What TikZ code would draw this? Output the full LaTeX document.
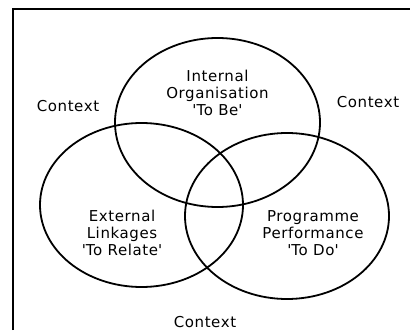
\documentclass[tikz,border=0pt]{standalone}
\usepackage{fontspec}
\setmainfont[LetterSpace=4]{DejaVu Sans}
\usepackage{tikz}

\tikzset{
  ring/.style={draw=black, line width=1.8pt},
  label text/.style={align=center, font=\fontsize{15}{17}\selectfont},
}
\newcommand{\sq}{\textquotesingle}

\begin{document}
\begin{tikzpicture}[x=1pt, y=1pt]
      \useasboundingbox (0,0) rectangle (410,330);
      \draw [line width=2.6pt] (13,0) |- (410,321);
      \draw [ring] (217.5,207.5) ellipse [x radius=102.5, y radius=84.5];
      \draw [ring] (141.5,125) ellipse [x radius=101.5, y radius=82];
      \draw [ring] (287,114) ellipse [x radius=102, y radius=83];
      \node (be) [label text] at (217.5,237) {Internal\\Organisation\\\sq To Be\sq};
      \node (relate) [label text] at (122,97) {External\\Linkages\\\sq To Relate\sq};
      \node (do) [label text] at (313,97) {Programme\\Performance\\\sq To Do\sq};
      \node (ctxl) [label text] at (68,224) {Context};
      \node (ctxr) [label text] at (368,228) {Context};
      \node (ctxb) [label text] at (205,8) {Context};
\end{tikzpicture}
\end{document}
